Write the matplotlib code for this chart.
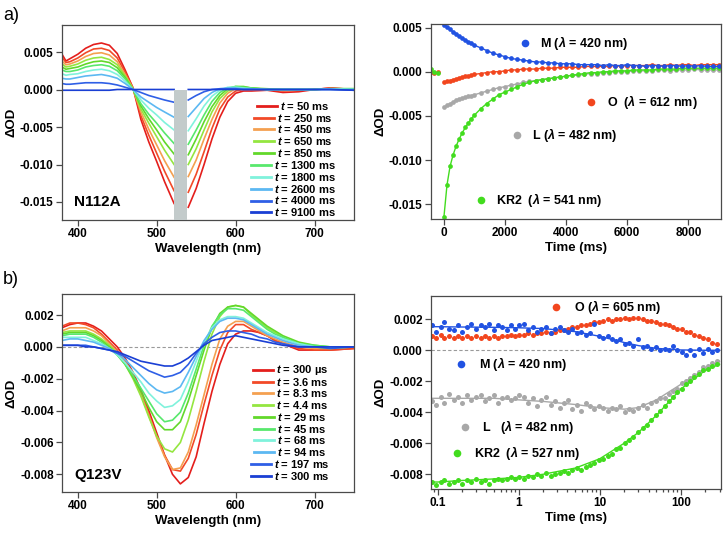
import matplotlib
matplotlib.use("Agg")
import matplotlib.pyplot as plt
import numpy as np
from matplotlib import ticker
from matplotlib.lines import Line2D
from matplotlib.patches import Rectangle

plt.rcParams["font.family"] = ["Liberation Sans", "DejaVu Sans"]
plt.rcParams["font.weight"] = "bold"
plt.rcParams["axes.labelweight"] = "bold"
plt.rcParams["axes.unicode_minus"] = False
plt.rcParams["mathtext.fontset"] = "custom"
plt.rcParams["mathtext.it"] = "Liberation Sans:italic:bold"
plt.rcParams["mathtext.rm"] = "Liberation Sans:bold"
plt.rcParams["mathtext.bf"] = "Liberation Sans:bold"

# ---------------- data: a) N112A spectra ----------------
WL_A_LEFT = [380, 385, 390, 400, 410, 420, 430, 440, 450, 460, 470, 480, 490, 500, 510, 522]
WL_A_RIGHT = [540, 550, 560, 570, 580, 590, 600, 610, 620, 640, 660, 680, 700, 720, 750]
GAP_A = (522, 539)

LABELS_A = ["50 ms", "250 ms", "450 ms", "650 ms", "850 ms",
            "1300 ms", "1800 ms", "2600 ms", "4000 ms", "9100 ms"]

SPEC_A_LEFT = [
    [0.0047, 0.0038, 0.0041, 0.0047, 0.0055, 0.0060, 0.0062, 0.0059, 0.0048, 0.0026, 0.0002, -0.0040, -0.0070, -0.0096, -0.0123, -0.0152],
    [0.0043, 0.0036, 0.0037, 0.0042, 0.0049, 0.0054, 0.0055, 0.0052, 0.0042, 0.0023, 0.0002, -0.0035, -0.0061, -0.0085, -0.0109, -0.0135],
    [0.0038, 0.0033, 0.0034, 0.0038, 0.0044, 0.0048, 0.0049, 0.0046, 0.0037, 0.0020, 0.0001, -0.0030, -0.0053, -0.0074, -0.0095, -0.0117],
    [0.0034, 0.0030, 0.0031, 0.0034, 0.0039, 0.0042, 0.0043, 0.0040, 0.0033, 0.0018, 0.0001, -0.0026, -0.0045, -0.0063, -0.0081, -0.0100],
    [0.0030, 0.0027, 0.0028, 0.0030, 0.0034, 0.0037, 0.0038, 0.0036, 0.0029, 0.0016, 0.0000, -0.0022, -0.0039, -0.0054, -0.0070, -0.0086],
    [0.0026, 0.0024, 0.0024, 0.0026, 0.0030, 0.0032, 0.0033, 0.0031, 0.0025, 0.0014, 0.0000, -0.0019, -0.0033, -0.0045, -0.0058, -0.0072],
    [0.0021, 0.0019, 0.0020, 0.0021, 0.0024, 0.0026, 0.0027, 0.0025, 0.0020, 0.0011, 0.0000, -0.0014, -0.0025, -0.0034, -0.0044, -0.0054],
    [0.0015, 0.0014, 0.0014, 0.0016, 0.0018, 0.0019, 0.0020, 0.0018, 0.0015, 0.0008, 0.0000, -0.0010, -0.0017, -0.0024, -0.0030, -0.0037],
    [0.0008, 0.0007, 0.0007, 0.0008, 0.0009, 0.0009, 0.0009, 0.0008, 0.0006, 0.0003, 0.0000, -0.0004, -0.0008, -0.0011, -0.0014, -0.0017],
    [-0.0001, -0.0001, -0.0001, -0.0001, -0.0001, -0.0001, -0.0001, -0.0001, 0.0000, 0.0000, 0.0000, 0.0000, 0.0000, 0.0000, 0.0000, 0.0000],
]
SPEC_A_RIGHT = [
    [-0.0157, -0.0132, -0.0100, -0.0066, -0.0037, -0.0016, -0.0005, -0.0002, -0.0002, -0.0001, -0.0004, -0.0003, 0.0000, 0.0002, 0.0000],
    [-0.0137, -0.0113, -0.0083, -0.0052, -0.0026, -0.0010, -0.0002, 0.0000, -0.0001, 0.0000, -0.0002, -0.0001, 0.0000, 0.0002, 0.0000],
    [-0.0116, -0.0094, -0.0066, -0.0040, -0.0018, -0.0005, 0.0001, 0.0002, 0.0001, 0.0000, -0.0001, -0.0001, 0.0000, 0.0001, 0.0000],
    [-0.0100, -0.0079, -0.0054, -0.0030, -0.0012, -0.0002, 0.0002, 0.0003, 0.0002, 0.0000, 0.0000, 0.0000, 0.0000, 0.0001, 0.0001],
    [-0.0087, -0.0066, -0.0043, -0.0023, -0.0008, 0.0001, 0.0004, 0.0004, 0.0002, 0.0001, 0.0000, 0.0000, 0.0000, 0.0001, 0.0001],
    [-0.0073, -0.0054, -0.0034, -0.0016, -0.0004, 0.0002, 0.0004, 0.0003, 0.0002, 0.0000, 0.0000, 0.0000, 0.0000, 0.0001, 0.0001],
    [-0.0055, -0.0039, -0.0022, -0.0009, -0.0001, 0.0003, 0.0003, 0.0002, 0.0001, 0.0000, 0.0000, 0.0000, 0.0000, 0.0001, 0.0000],
    [-0.0036, -0.0024, -0.0012, -0.0004, 0.0001, 0.0002, 0.0002, 0.0001, 0.0001, 0.0000, 0.0000, 0.0000, 0.0000, 0.0000, 0.0000],
    [-0.0014, -0.0008, -0.0003, 0.0000, 0.0001, 0.0001, 0.0001, 0.0000, 0.0000, 0.0000, 0.0000, 0.0000, 0.0000, 0.0000, -0.0001],
    [0.0000, 0.0000, 0.0000, 0.0000, 0.0000, 0.0000, 0.0000, 0.0000, 0.0000, 0.0000, 0.0000, 0.0000, 0.0000, 0.0000, -0.0001],
]

# ---------------- data: a) N112A kinetics ----------------
T_A = [0, 100, 200, 300, 400, 500, 600, 700, 800, 900, 1000,
       1200, 1400, 1600, 1800, 2000, 2200, 2400, 2600, 2800, 3000,
       3200, 3400, 3600, 3800, 4000, 4200, 4400, 4600, 4800, 5000,
       5200, 5400, 5600, 5800, 6000, 6200, 6400, 6600, 6800, 7000,
       7200, 7400, 7600, 7800, 8000, 8200, 8400, 8600, 8800, 9000]
M_A = [0.0053, 0.0051, 0.0048, 0.0045, 0.0043, 0.0040, 0.0038, 0.0036, 0.0034, 0.0032, 0.0030,
       0.0027, 0.0024, 0.0021, 0.0019, 0.0017, 0.0015, 0.0014, 0.0013, 0.0012, 0.0011,
       0.0011, 0.0010, 0.0010, 0.0009, 0.0009, 0.0009, 0.0008, 0.0008, 0.0008, 0.0008,
       0.0007, 0.0008, 0.0007, 0.0007, 0.0008, 0.0007, 0.0007, 0.0006, 0.0007, 0.0007,
       0.0006, 0.0007, 0.0007, 0.0006, 0.0007, 0.0006, 0.0007, 0.0006, 0.0006, 0.0006]
O_A = [-0.0012, -0.0011, -0.0010, -0.0009, -0.0008, -0.0007, -0.0006, -0.0005, -0.0005, -0.0004, -0.0003,
       -0.0002, -0.0001, 0.0000, 0.0000, 0.0001, 0.0002, 0.0002, 0.0003, 0.0003, 0.0003,
       0.0004, 0.0004, 0.0004, 0.0005, 0.0005, 0.0005, 0.0005, 0.0006, 0.0006, 0.0006,
       0.0006, 0.0006, 0.0007, 0.0006, 0.0007, 0.0007, 0.0007, 0.0007, 0.0008, 0.0007,
       0.0007, 0.0008, 0.0007, 0.0008, 0.0008, 0.0007, 0.0008, 0.0008, 0.0008, 0.0008]
L_A = [-0.0040, -0.0038, -0.0036, -0.0034, -0.0032, -0.0031, -0.0030, -0.0029, -0.0028, -0.0027, -0.0026,
       -0.0024, -0.0022, -0.0020, -0.0018, -0.0017, -0.0015, -0.0014, -0.0012, -0.0011, -0.0010,
       -0.0009, -0.0008, -0.0007, -0.0006, -0.0005, -0.0004, -0.0004, -0.0003, -0.0002, -0.0002,
       -0.0001, -0.0001, 0.0000, 0.0000, 0.0000, 0.0001, 0.0001, 0.0001, 0.0001, 0.0002,
       0.0002, 0.0001, 0.0002, 0.0002, 0.0002, 0.0003, 0.0002, 0.0002, 0.0002, 0.0002]
KR2_A = [-0.0164, -0.0128, -0.0107, -0.0094, -0.0084, -0.0076, -0.0069, -0.0063, -0.0058, -0.0053, -0.0049,
         -0.0042, -0.0036, -0.0031, -0.0026, -0.0023, -0.0020, -0.0017, -0.0014, -0.0012, -0.0010,
         -0.0009, -0.0008, -0.0007, -0.0006, -0.0005, -0.0004, -0.0003, -0.0002, -0.0001, -0.0001,
         0.0000, 0.0000, 0.0001, 0.0001, 0.0001, 0.0002, 0.0002, 0.0002, 0.0002, 0.0003,
         0.0003, 0.0003, 0.0003, 0.0004, 0.0004, 0.0004, 0.0004, 0.0004, 0.0004, 0.0004]
T_PRE = [-420, -320, -200]
O_PRE = [0.0000, -0.0001, 0.0000]
KR2_PRE = [0.0003, 0.0000, -0.0001]

# ---------------- data: b) Q123V spectra ----------------
WL_B = [380, 390, 400, 410, 420, 430, 440, 450, 460, 470, 480, 490, 500, 510, 520, 530,
        540, 550, 560, 570, 580, 590, 600, 610, 620, 630, 640, 650, 660, 680, 700, 720, 750]
LABELS_B = ["300 µs", "3.6 ms", "8.3 ms", "4.4 ms", "29 ms",
            "45 ms", "68 ms", "94 ms", "197 ms", "300 ms"]
SPEC_B = [
    [0.0012, 0.0014, 0.0015, 0.0015, 0.0013, 0.0010, 0.0005, 0.0000, -0.0007, -0.0016, -0.0027, -0.0040, -0.0054, -0.0068, -0.0080, -0.0086,
     -0.0082, -0.0069, -0.0048, -0.0028, -0.0011, 0.0002, 0.0008, 0.0010, 0.0010, 0.0009, 0.0007, 0.0004, 0.0002, -0.0002, -0.0002, -0.0002, -0.0001],
    [0.0013, 0.0015, 0.0015, 0.0014, 0.0012, 0.0008, 0.0003, -0.0002, -0.0009, -0.0018, -0.0029, -0.0042, -0.0056, -0.0068, -0.0077, -0.0078,
     -0.0070, -0.0055, -0.0036, -0.0018, -0.0002, 0.0009, 0.0014, 0.0014, 0.0011, 0.0009, 0.0007, 0.0004, 0.0002, -0.0001, -0.0002, -0.0002, -0.0001],
    [0.0010, 0.0012, 0.0012, 0.0012, 0.0010, 0.0007, 0.0002, -0.0003, -0.0010, -0.0019, -0.0030, -0.0043, -0.0057, -0.0069, -0.0077, -0.0076,
     -0.0066, -0.0049, -0.0030, -0.0011, 0.0005, 0.0013, 0.0016, 0.0016, 0.0013, 0.0010, 0.0007, 0.0005, 0.0003, 0.0000, -0.0001, -0.0001, 0.0000],
    [0.0009, 0.0010, 0.0010, 0.0010, 0.0008, 0.0005, 0.0001, -0.0004, -0.0011, -0.0020, -0.0031, -0.0044, -0.0056, -0.0064, -0.0066, -0.0060,
     -0.0046, -0.0028, -0.0009, 0.0008, 0.0019, 0.0025, 0.0026, 0.0025, 0.0020, 0.0016, 0.0012, 0.0009, 0.0006, 0.0002, 0.0000, -0.0001, 0.0000],
    [0.0008, 0.0009, 0.0009, 0.0009, 0.0007, 0.0004, 0.0000, -0.0005, -0.0011, -0.0019, -0.0028, -0.0038, -0.0047, -0.0052, -0.0052, -0.0047,
     -0.0034, -0.0018, -0.0002, 0.0012, 0.0021, 0.0025, 0.0026, 0.0025, 0.0021, 0.0017, 0.0013, 0.0010, 0.0007, 0.0003, 0.0001, 0.0000, 0.0000],
    [0.0007, 0.0008, 0.0008, 0.0008, 0.0006, 0.0003, -0.0001, -0.0005, -0.0011, -0.0018, -0.0026, -0.0034, -0.0042, -0.0047, -0.0046, -0.0041,
     -0.0029, -0.0014, 0.0001, 0.0013, 0.0020, 0.0024, 0.0024, 0.0023, 0.0019, 0.0015, 0.0011, 0.0008, 0.0006, 0.0002, 0.0001, 0.0000, 0.0000],
    [0.0006, 0.0006, 0.0006, 0.0006, 0.0004, 0.0002, -0.0001, -0.0005, -0.0010, -0.0016, -0.0022, -0.0029, -0.0034, -0.0038, -0.0037, -0.0033,
     -0.0022, -0.0009, 0.0003, 0.0012, 0.0017, 0.0019, 0.0019, 0.0018, 0.0015, 0.0012, 0.0009, 0.0007, 0.0005, 0.0002, 0.0000, 0.0000, 0.0000],
    [0.0004, 0.0005, 0.0005, 0.0004, 0.0003, 0.0001, -0.0001, -0.0004, -0.0008, -0.0013, -0.0018, -0.0023, -0.0027, -0.0029, -0.0028, -0.0025,
     -0.0016, -0.0006, 0.0004, 0.0011, 0.0016, 0.0018, 0.0018, 0.0017, 0.0014, 0.0011, 0.0008, 0.0006, 0.0004, 0.0001, 0.0000, 0.0000, 0.0000],
    [0.0001, 0.0001, 0.0001, 0.0001, 0.0000, -0.0001, -0.0002, -0.0004, -0.0006, -0.0009, -0.0012, -0.0015, -0.0017, -0.0019, -0.0018, -0.0016,
     -0.0011, -0.0004, 0.0002, 0.0006, 0.0009, 0.0010, 0.0010, 0.0009, 0.0008, 0.0006, 0.0005, 0.0003, 0.0002, 0.0000, 0.0000, -0.0001, 0.0000],
    [0.0001, 0.0001, 0.0001, 0.0000, 0.0000, -0.0001, -0.0002, -0.0003, -0.0005, -0.0007, -0.0009, -0.0010, -0.0011, -0.0012, -0.0012, -0.0010,
     -0.0007, -0.0003, 0.0001, 0.0004, 0.0005, 0.0006, 0.0007, 0.0006, 0.0005, 0.0004, 0.0003, 0.0002, 0.0001, 0.0000, 0.0000, 0.0000, 0.0000],
]

# ---------------- data: b) Q123V kinetics (log time) ----------------
T_B = [0.085, 0.095, 0.11, 0.12, 0.14, 0.16, 0.18, 0.2, 0.23, 0.26,
       0.3, 0.34, 0.38, 0.43, 0.49, 0.55, 0.63, 0.71, 0.8, 0.9,
       1.0, 1.15, 1.3, 1.5, 1.7, 1.9, 2.2, 2.5, 2.8, 3.2,
       3.6, 4.1, 4.6, 5.2, 5.9, 6.7, 7.6, 8.6, 9.8, 11,
       12.5, 14, 16, 18, 20.5, 23, 26, 30, 34, 38,
       43, 49, 55, 63, 71, 80, 90, 102, 115, 130,
       147, 167, 190, 215, 245, 280]
M_B = [0.0016, 0.0012, 0.0015, 0.0018, 0.0014, 0.0013, 0.0016, 0.0012, 0.0015, 0.0017,
       0.0014, 0.0016, 0.0015, 0.0017, 0.0013, 0.0016, 0.0015, 0.0013, 0.0016, 0.0014,
       0.0016, 0.0017, 0.0013, 0.0015, 0.0012, 0.0014, 0.0015, 0.0011, 0.0014, 0.0015,
       0.0013, 0.0012, 0.0014, 0.0011, 0.0012, 0.0010, 0.0011, 0.0017, 0.0009, 0.0008,
       0.0009, 0.0007, 0.0006, 0.0007, 0.0004, 0.0005, 0.0003, 0.0007, 0.0002, 0.0003,
       0.0001, 0.0002, 0.0000, 0.0001, 0.0000, 0.0003, 0.0000, -0.0001, -0.0003, 0.0000,
       -0.0003, 0.0001, -0.0002, 0.0001, -0.0001, 0.0000]
O_B = [0.0009, 0.0008, 0.0010, 0.0008, 0.0009, 0.0008, 0.0009, 0.0008, 0.0009, 0.0008,
       0.0009, 0.0008, 0.0009, 0.0008, 0.0009, 0.0008, 0.0009, 0.0009, 0.0010, 0.0009,
       0.0010, 0.0010, 0.0011, 0.0010, 0.0011, 0.0011, 0.0012, 0.0011, 0.0012, 0.0013,
       0.0013, 0.0014, 0.0015, 0.0015, 0.0016, 0.0016, 0.0017, 0.0018, 0.0018, 0.0019,
       0.0020, 0.0019, 0.0020, 0.0020, 0.0021, 0.0020, 0.0021, 0.0021, 0.0020, 0.0019,
       0.0019, 0.0018, 0.0017, 0.0017, 0.0016, 0.0015, 0.0014, 0.0014, 0.0012, 0.0012,
       0.0010, 0.0009, 0.0008, 0.0007, 0.0005, 0.0004]
L_B = [-0.0033, -0.0035, -0.0030, -0.0034, -0.0028, -0.0032, -0.0030, -0.0034, -0.0029, -0.0032,
       -0.0030, -0.0029, -0.0033, -0.0031, -0.0029, -0.0034, -0.0031, -0.0030, -0.0032, -0.0031,
       -0.0029, -0.0030, -0.0034, -0.0031, -0.0036, -0.0032, -0.0030, -0.0035, -0.0033, -0.0037,
       -0.0034, -0.0032, -0.0038, -0.0035, -0.0039, -0.0034, -0.0036, -0.0038, -0.0036, -0.0037,
       -0.0039, -0.0037, -0.0038, -0.0036, -0.0040, -0.0038, -0.0039, -0.0037, -0.0035, -0.0037,
       -0.0034, -0.0033, -0.0031, -0.0031, -0.0028, -0.0026, -0.0025, -0.0021, -0.0020, -0.0018,
       -0.0016, -0.0014, -0.0011, -0.0010, -0.0008, -0.0007]
KR2_B = [-0.0085, -0.0087, -0.0085, -0.0084, -0.0086, -0.0085, -0.0084, -0.0086, -0.0084, -0.0085,
         -0.0083, -0.0085, -0.0084, -0.0086, -0.0084, -0.0083, -0.0084, -0.0083, -0.0082, -0.0083,
         -0.0082, -0.0083, -0.0081, -0.0082, -0.0080, -0.0081, -0.0079, -0.0081, -0.0080, -0.0079,
         -0.0078, -0.0079, -0.0077, -0.0076, -0.0077, -0.0075, -0.0074, -0.0073, -0.0071, -0.0070,
         -0.0068, -0.0067, -0.0064, -0.0063, -0.0060, -0.0058, -0.0056, -0.0053, -0.0050, -0.0048,
         -0.0045, -0.0042, -0.0039, -0.0036, -0.0033, -0.0030, -0.0027, -0.0025, -0.0022, -0.0020,
         -0.0017, -0.0015, -0.0013, -0.0012, -0.0010, -0.0009]
T_FIT_B = [0.08, 0.1, 0.2, 0.5, 1, 2, 5, 10, 20, 30, 50, 100, 200, 300]
M_FIT_B = [0.00152, 0.00152, 0.00150, 0.00148, 0.00145, 0.00140, 0.00120, 0.00090, 0.00050, 0.00030, 0.00012, 0.00002, 0.0, 0.0]
L_FIT_B = [-0.0031, -0.0031, -0.0031, -0.0031, -0.0032, -0.0033, -0.0035, -0.0037, -0.0038, -0.0037, -0.0032, -0.0022, -0.0012, -0.0007]
KR2_FIT_B = [-0.0085, -0.0085, -0.0084, -0.0083, -0.0082, -0.0080, -0.0076, -0.0070, -0.0060, -0.0053, -0.0042, -0.0025, -0.0013, -0.0009]

# ---------------- style ----------------
SPEC_COLORS = ["#e41e1c", "#f24a28", "#f4a050", "#94e640", "#62d82a",
               "#58e86c", "#80f2dc", "#5cb8f2", "#2f5fe6", "#1a3fd4"]
C_M, C_O, C_L, C_KR2 = "#2152e2", "#f2461e", "#a8a8a8", "#42dc1e"
FRAME = "#4a4a4a"

W_PX, H_PX = 723, 535
fig = plt.figure(figsize=(W_PX / 100, H_PX / 100), dpi=100)


def px_axes(l, t, r, b):
    return fig.add_axes([l / W_PX, 1 - b / H_PX, (r - l) / W_PX, (b - t) / H_PX])


def style(ax):
    for s in ax.spines.values():
        s.set_color(FRAME)
        s.set_linewidth(0.9)
    ax.tick_params(which="both", direction="out", color=FRAME, width=0.9, labelsize=8.5, pad=2)
    ax.tick_params(which="major", length=4)
    ax.tick_params(which="minor", length=2.2)


ax1 = px_axes(62, 25, 354, 220)
ax2 = px_axes(431, 24, 721, 219)
ax3 = px_axes(62, 294, 354, 492)
ax4 = px_axes(431, 296, 721, 489)
for ax in (ax1, ax2, ax3, ax4):
    style(ax)

# a) spectra
for yl, yr, c in zip(SPEC_A_LEFT, SPEC_A_RIGHT, SPEC_COLORS):
    ax1.plot(WL_A_LEFT, yl, color=c, lw=1.2)
    ax1.plot(WL_A_RIGHT, yr, color=c, lw=1.2)
ylo_a = -0.0174
ax1.add_patch(Rectangle((GAP_A[0], ylo_a), GAP_A[1] - GAP_A[0], -ylo_a,
                        facecolor="#c3cbcb", edgecolor="none", zorder=3))
ax1.set_xlim(380, 750)
ax1.set_ylim(ylo_a, 0.0086)
ax1.set_xticks([400, 500, 600, 700])
ax1.set_yticks([0.005, 0.0, -0.005, -0.010, -0.015])
ax1.yaxis.set_major_formatter(ticker.FormatStrFormatter("%.3f"))
ax1.set_xlabel("Wavelength (nm)", fontsize=9.5, labelpad=2)
ax1.set_ylabel("ΔOD", fontsize=9.5, labelpad=2)
ax1.text(0.041, 0.094, "N112A", transform=ax1.transAxes, fontsize=11, va="center")

# a) kinetics
ax2.plot(T_PRE, O_PRE, "o", color=C_O, ms=3.4, mew=0)
ax2.plot(T_PRE, KR2_PRE, "o", color=C_KR2, ms=3.4, mew=0)
for y, c in ((L_A, C_L), (KR2_A, C_KR2), (O_A, C_O), (M_A, C_M)):
    ax2.plot(T_A, y, "-o", color=c, ms=3.4, mew=0, lw=1.0)
ax2.set_xlim(-424, 9070)
ax2.set_ylim(-0.01666, 0.0054)
ax2.set_xticks([0, 2000, 4000, 6000, 8000])
ax2.set_yticks([0.005, 0.0, -0.005, -0.010, -0.015])
ax2.yaxis.set_major_formatter(ticker.FormatStrFormatter("%.3f"))
ax2.set_xlabel("Time (ms)", fontsize=9.5, labelpad=2)
ax2.set_ylabel("ΔOD", fontsize=9.5, labelpad=2)

LAB_A = [("M ($\\lambda$ = 420 nm)", C_M, 0.325, 0.904, 0.375),
         ("O  ($\\lambda$ = 612 nm)", C_O, 0.551, 0.598, 0.606),
         ("L ($\\lambda$ = 482 nm)", C_L, 0.298, 0.431, 0.350),
         ("KR2  ($\\lambda$ = 541 nm)", C_KR2, 0.173, 0.097, 0.224)]
for txt, c, xd, yd, xt in LAB_A:
    ax2.plot([xd], [yd], "o", color=c, ms=5.5, mew=0, transform=ax2.transAxes, clip_on=False)
    ax2.text(xt, yd, txt, transform=ax2.transAxes, fontsize=9, va="center")

# b) spectra
ax3.axhline(0, color="#9a9a9a", lw=0.8, ls=(0, (3, 2)), zorder=0)
for y, c in zip(SPEC_B, SPEC_COLORS):
    ax3.plot(WL_B, y, color=c, lw=1.2)
ax3.set_xlim(380, 750)
ax3.set_ylim(-0.00911, 0.00332)
ax3.set_xticks([400, 500, 600, 700])
ax3.set_yticks([0.002, 0.0, -0.002, -0.004, -0.006, -0.008])
ax3.yaxis.set_major_formatter(ticker.FormatStrFormatter("%.3f"))
ax3.set_xlabel("Wavelength (nm)", fontsize=9.5, labelpad=2)
ax3.set_ylabel("ΔOD", fontsize=9.5, labelpad=2)
ax3.text(0.041, 0.086, "Q123V", transform=ax3.transAxes, fontsize=11, va="center")

# b) kinetics
ax4.axhline(0, color="#9a9a9a", lw=0.8, ls=(0, (3, 2)), zorder=0)
ax4.plot(T_FIT_B, M_FIT_B, color=C_M, lw=1.0)
ax4.plot(T_FIT_B, L_FIT_B, color=C_L, lw=1.0)
ax4.plot(T_FIT_B, KR2_FIT_B, color=C_KR2, lw=1.0)
for y, c in ((O_B, C_O), (M_B, C_M), (L_B, C_L), (KR2_B, C_KR2)):
    ax4.plot(T_B, y, "o", color=c, ms=3.6, mew=0)
ax4.set_xscale("log")
ax4.set_xlim(0.083, 313)
ax4.set_ylim(-0.00895, 0.0035)
ax4.xaxis.set_major_locator(ticker.FixedLocator([0.1, 1, 10, 100]))
ax4.xaxis.set_major_formatter(ticker.FixedFormatter(["0.1", "1", "10", "100"]))
ax4.xaxis.set_minor_locator(ticker.LogLocator(base=10, subs=np.arange(2, 10), numticks=20))
ax4.xaxis.set_minor_formatter(ticker.NullFormatter())
ax4.set_yticks([0.002, 0.0, -0.002, -0.004, -0.006, -0.008])
ax4.yaxis.set_major_formatter(ticker.FormatStrFormatter("%.3f"))
ax4.set_xlabel("Time (ms)", fontsize=9.5, labelpad=2)
ax4.set_ylabel("ΔOD", fontsize=9.5, labelpad=2)

LAB_B = [("O ($\\lambda$ = 605 nm)", C_O, 0.431, 0.941, 0.494),
         ("M ($\\lambda$ = 420 nm)", C_M, 0.104, 0.648, 0.167),
         ("L   ($\\lambda$ = 482 nm)", C_L, 0.116, 0.323, 0.175),
         ("KR2  ($\\lambda$ = 527 nm)", C_KR2, 0.090, 0.188, 0.150)]
for txt, c, xd, yd, xt in LAB_B:
    ax4.plot([xd], [yd], "o", color=c, ms=5.5, mew=0, transform=ax4.transAxes, clip_on=False)
    ax4.text(xt, yd, txt, transform=ax4.transAxes, fontsize=9, va="center")


# centred legend rows, drawn in figure pixels
def row_legend(labels, colors, xc, y0, dy, line_len=20, gap=3):
    r = fig.canvas.get_renderer()
    for i, (lab, c) in enumerate(zip(labels, colors)):
        y = 1 - (y0 + i * dy) / H_PX
        t = fig.text(0, y, "$t$ = " + lab, fontsize=8, va="center", ha="left")
        w = t.get_window_extent(r).width
        left = xc - (line_len + gap + w) / 2
        t.set_x((left + line_len + gap) / W_PX)
        fig.add_artist(Line2D([left / W_PX, (left + line_len) / W_PX], [y, y],
                              color=c, lw=2.0, transform=fig.transFigure))


row_legend(LABELS_A, SPEC_COLORS, 293.3, 105.7, 11.85)
row_legend(LABELS_B, SPEC_COLORS, 290.5, 370.0, 11.74)

fig.text(3 / W_PX, 1 - 15 / H_PX, "a)", fontsize=13, fontweight="normal", va="center")
fig.text(3 / W_PX, 1 - 280 / H_PX, "b)", fontsize=13, fontweight="normal", va="center")

fig.savefig("out.png", dpi=100)
